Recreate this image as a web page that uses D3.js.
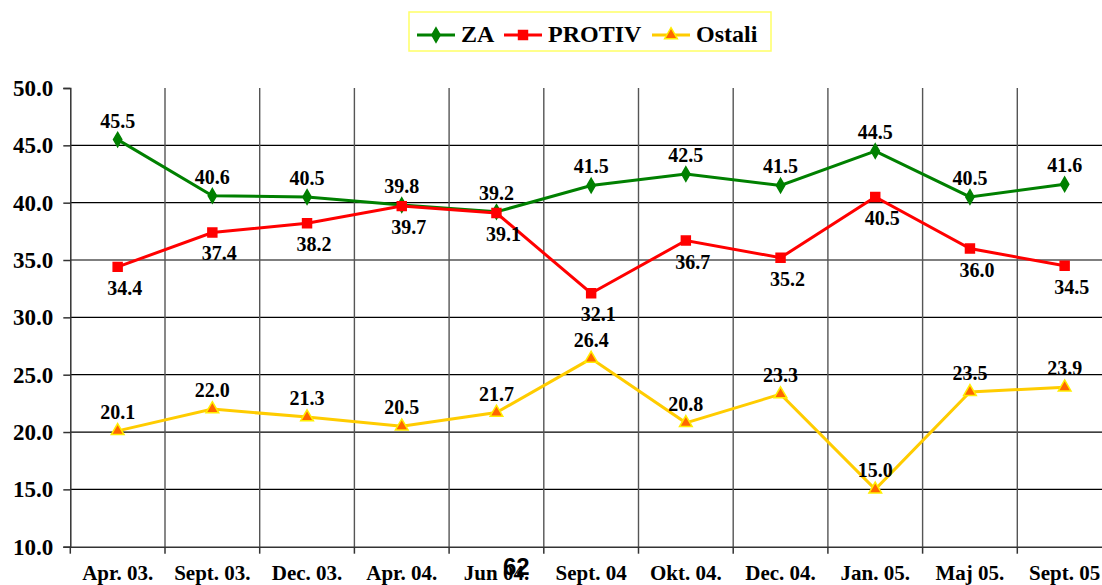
<!DOCTYPE html>
<html><head><meta charset="utf-8">
<script src="https://cdn.jsdelivr.net/npm/d3@7"></script>
<style>
html,body{margin:0;padding:0;background:#fff;overflow:hidden}
svg text{font-family:"Liberation Serif","Times New Roman",Times,serif;font-weight:bold;fill:#000}
svg text.pg{font-family:"Liberation Sans",Arial,Helvetica,sans-serif}
</style>
</head><body>
<svg id="c" width="1102" height="585"></svg>
<script>
const categories = ["Apr. 03.","Sept. 03.","Dec. 03.","Apr. 04.","Jun 04.","Sept. 04","Okt. 04.","Dec. 04.","Jan. 05.","Maj 05.","Sept. 05"];
const za     = [45.5,40.6,40.5,39.8,39.2,41.5,42.5,41.5,44.5,40.5,41.6];
const protiv = [34.4,37.4,38.2,39.7,39.1,32.1,36.7,35.2,40.5,36.0,34.5];
const ostali = [20.1,22.0,21.3,20.5,21.7,26.4,20.8,23.3,15.0,23.5,23.9];
const yTicks = [10,15,20,25,30,35,40,45,50];
const seriesNames = ["ZA","PROTIV","Ostali"];
const pageNumber = "62";

(function(){
const svg = d3.select("#c");
const pLeft = 70.3, bandW = 94.7, pTop = 88, pBottom = 546.7;
const x = d3.scaleBand().domain(categories).range([pLeft, pLeft + bandW*categories.length]).padding(0);
const y = d3.scaleLinear().domain([10,50]).range([pBottom, pTop]);
const cx = d => x(d) + x.bandwidth()/2;

// horizontal gridlines
svg.append("g").selectAll("line").data(yTicks.filter(t=>t>10 && t<50)).join("line")
  .attr("x1", pLeft).attr("x2", 1102).attr("y1", d=>y(d)).attr("y2", d=>y(d))
  .attr("stroke","#000").attr("stroke-width",1.2);
// vertical gridlines
svg.append("g").selectAll("line").data(categories.slice(1)).join("line")
  .attr("x1", d=>x(d)).attr("x2", d=>x(d)).attr("y1", pTop).attr("y2", pBottom)
  .attr("stroke","#555").attr("stroke-width",1.4);

// y axis
const yAxis = svg.append("g").attr("transform",`translate(${pLeft},0)`)
  .call(d3.axisLeft(y).tickValues(yTicks).tickSize(7).tickPadding(10).tickFormat(d3.format(".1f")));
yAxis.attr("font-family",null).attr("font-size",null);
yAxis.select(".domain").attr("stroke","#333").attr("stroke-width",1.5);
yAxis.selectAll(".tick line").attr("stroke","#333").attr("stroke-width",1.5);
yAxis.selectAll("text").attr("font-size","23px");

// x axis
const xAxis = svg.append("g").attr("transform",`translate(0,${pBottom})`)
  .call(d3.axisBottom(x).tickSize(0).tickPadding(0));
xAxis.attr("font-family",null).attr("font-size",null);
xAxis.select(".domain").attr("stroke","#333").attr("stroke-width",1.5);
xAxis.selectAll(".tick text").attr("font-size","21px").attr("dy",null).attr("y",33);
svg.append("g").selectAll("line").data(categories).join("line")
  .attr("x1", d=>x(d)).attr("x2", d=>x(d)).attr("y1", pBottom).attr("y2", pBottom+7)
  .attr("stroke","#333").attr("stroke-width",1.5);

const series = [
  {name:seriesNames[0], values:za, color:"#008000", marker:"diamond", fill:"#008000", mstroke:"#008000", ly:-12, lx:0},
  {name:seriesNames[1], values:protiv, color:"#ff0000", marker:"square", fill:"#ff0000", mstroke:"#ff0000", ly:28, lx:7},
  {name:seriesNames[2], values:ostali, color:"#ffcc00", marker:"triangle", fill:"#ff6600", mstroke:"#ffee00", ly:-12, lx:0}
];
const symType = {diamond:d3.symbolDiamond, square:d3.symbolSquare, triangle:d3.symbolTriangle};
const symSize = {diamond:60, square:80, triangle:70};

const line = d3.line().x((d,i)=>cx(categories[i])).y(d=>y(d));
series.forEach(s=>{
  const g = svg.append("g");
  g.append("path").datum(s.values).attr("d",line).attr("fill","none").attr("stroke",s.color).attr("stroke-width",3);
  g.selectAll("path.m").data(s.values).join("path").attr("class","m")
    .attr("transform",(d,i)=>`translate(${cx(categories[i])},${y(d)})`)
    .attr("d", d3.symbol().type(symType[s.marker]).size(symSize[s.marker]))
    .attr("fill",s.fill).attr("stroke",s.mstroke).attr("stroke-width",1.5);
  g.selectAll("text").data(s.values).join("text")
    .attr("x",(d,i)=>cx(categories[i])+s.lx).attr("y",d=>y(d)+s.ly)
    .attr("text-anchor","middle").attr("font-size","20px")
    .text(d=>d3.format(".1f")(d));
});

// legend
const lg = svg.append("g");
lg.append("rect").attr("x",409).attr("y",12).attr("width",362).attr("height",39)
  .attr("fill","#fff").attr("stroke","#ffff66").attr("stroke-width",1.5);
const legX = [417, 504, 652];
series.forEach((s,i)=>{
  const x0 = legX[i];
  lg.append("line").attr("x1",x0).attr("x2",x0+38).attr("y1",35).attr("y2",35).attr("stroke",s.color).attr("stroke-width",3);
  lg.append("path").attr("transform",`translate(${x0+19},35)`)
    .attr("d", d3.symbol().type(symType[s.marker]).size(symSize[s.marker]))
    .attr("fill",s.fill).attr("stroke",s.mstroke).attr("stroke-width",1.5);
  lg.append("text").attr("x",x0+44).attr("y",42).attr("font-size","24px").text(s.name);
});

svg.append("text").attr("class","pg").attr("x",503).attr("y",575).attr("font-size","24px").text(pageNumber);
})();
</script>
</body></html>
